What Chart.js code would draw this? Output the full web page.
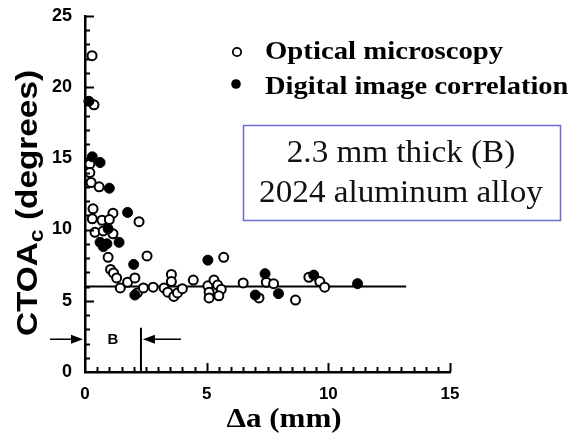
<!DOCTYPE html>
<html>
<head>
<meta charset="utf-8">
<script src="https://cdn.jsdelivr.net/npm/chart.js@4/dist/chart.umd.min.js"></script>
<style>
  html, body { margin: 0; padding: 0; background: #fff; }
</style>
</head>
<body>
<canvas id="c" width="571" height="436"></canvas>
<script>
// Optical microscopy (open circles)
const opticalX = [0.29, 0.37, 0.2, 0.2, 0.25, 0.58, 0.33, 1.15, 2.22, 0.3, 0.7, 1.0, 0.41, 0.75, 1.15,
  0.95, 1.05, 1.17, 1.3, 1.45, 1.75, 2.55, 2.05, 2.15, 2.4, 2.8, 3.25, 3.55, 3.55, 3.4, 3.65, 3.8, 4.0,
  4.45, 5.7, 5.05, 5.3, 5.45, 5.6, 5.1, 5.1, 5.5, 6.5, 7.45, 7.75, 7.15, 8.65, 9.2, 9.65, 9.85];
const opticalY = [22.2, 18.75, 14.6, 14.0, 13.3, 13.0, 11.45, 11.15, 10.55, 10.75, 10.65, 10.7, 9.8, 9.9, 9.7,
  8.05, 7.2, 6.95, 6.6, 5.9, 6.3, 8.15, 6.6, 5.55, 5.9, 5.95, 5.9, 6.85, 6.35, 5.6, 5.3, 5.55, 5.85,
  6.45, 8.05, 6.05, 6.45, 6.1, 5.8, 5.6, 5.2, 5.35, 6.25, 6.3, 6.2, 5.2, 5.05, 6.65, 6.35, 5.95];

// Digital image correlation (filled circles)
const dicX = [0.16, 0.3, 0.62, 1.0, 1.75, 0.95, 0.62, 0.9, 1.4, 0.75, 2.0, 2.05, 5.05, 7.4, 7.0, 7.95, 9.4, 11.2];
const dicY = [19.0, 15.1, 14.7, 12.9, 11.2, 10.05, 9.1, 9.0, 9.1, 8.8, 7.55, 5.4, 7.85, 6.9, 5.4, 5.5, 6.8, 6.2];

// steady-state CTOA line
const fitX = [0, 13.2];
const fitY = [6, 6];

// thickness marker B
const bX = [2.3, 2.3];
const bY = [0, 3.1];
const arrowY = 2.3;

const xTicks = [0, 5, 10, 15];
const yTicks = [0, 5, 10, 15, 20, 25];

const pts = (xs, ys) => xs.map((x, i) => ({ x, y: ys[i] }));

// text drawn a bit wider than tall, like the scanned figure
function wideText(ctx, text, x, y, sx) {
  ctx.save();
  ctx.translate(x, y);
  ctx.scale(sx, 1);
  ctx.fillText(text, 0, 0);
  ctx.restore();
}

const overlay = {
  id: "overlay",
  afterDraw(chart) {
    const { ctx, scales: { x, y }, chartArea: ca } = chart;
    ctx.save();
    ctx.strokeStyle = "#000";
    ctx.fillStyle = "#000";

    // inward tick marks
    ctx.lineWidth = 2;
    for (let i = 1; i <= 30; i++) {
      const v = i * 0.5;
      const px = Math.round(x.getPixelForValue(v)) + 0.5;
      const len = i % 10 === 0 ? 9 : 5;
      ctx.beginPath();
      ctx.moveTo(px, ca.bottom);
      ctx.lineTo(px, ca.bottom - len);
      ctx.stroke();
    }
    for (let v = 1; v <= 25; v++) {
      const py = Math.round(y.getPixelForValue(v)) + 0.5;
      const len = v % 5 === 0 ? 9 : 5;
      ctx.beginPath();
      ctx.moveTo(ca.left, py);
      ctx.lineTo(ca.left + len, py);
      ctx.stroke();
    }

    // arrows around B
    const ay = y.getPixelForValue(arrowY);
    const x0 = x.getPixelForValue(0);
    const xb = x.getPixelForValue(bX[0]);
    const arrow = (from, to) => {
      const dir = Math.sign(to - from);
      ctx.lineWidth = 1.5;
      ctx.beginPath();
      ctx.moveTo(from, ay);
      ctx.lineTo(to - dir * 8, ay);
      ctx.stroke();
      ctx.beginPath();
      ctx.moveTo(to, ay);
      ctx.lineTo(to - dir * 12, ay - 4.5);
      ctx.lineTo(to - dir * 12, ay + 4.5);
      ctx.closePath();
      ctx.fill();
    };
    arrow(x0 - 35, x0 - 2);
    arrow(xb + 40, xb + 2);
    ctx.font = "bold 15px 'Liberation Sans', Arial, sans-serif";
    ctx.textAlign = "center";
    ctx.textBaseline = "middle";
    ctx.fillText("B", (x0 + xb) / 2, ay + 1);

    // legend
    ctx.lineWidth = 1.8;
    ctx.beginPath();
    ctx.arc(237, 52, 4.2, 0, Math.PI * 2);
    ctx.fillStyle = "#fff";
    ctx.fill();
    ctx.stroke();
    ctx.fillStyle = "#000";
    ctx.beginPath();
    ctx.arc(236, 84, 4.8, 0, Math.PI * 2);
    ctx.fill();
    ctx.font = "bold 25px 'Liberation Serif', 'Times New Roman', serif";
    ctx.textAlign = "left";
    wideText(ctx, "Optical microscopy", 265, 53, 1.15);
    wideText(ctx, "Digital image correlation", 265, 88, 1.14);

    // info box
    ctx.strokeStyle = "#6b6bd6";
    ctx.lineWidth = 1.5;
    ctx.strokeRect(243.5, 125.5, 317, 95);
    ctx.font = "31px 'Liberation Serif', 'Times New Roman', serif";
    ctx.textAlign = "center";
    ctx.fillStyle = "#111";
    wideText(ctx, "2.3 mm thick (B)", 401, 154, 1.07);
    wideText(ctx, "2024 aluminum alloy", 401, 194, 1.07);

    // x title
    ctx.fillStyle = "#000";
    ctx.font = "bold 27px 'Liberation Serif', 'Times New Roman', serif";
    wideText(ctx, "\u0394a (mm)", 284, 420, 1.15);

    // y title with subscript
    ctx.translate(29, 203);
    ctx.rotate(-Math.PI / 2);
    ctx.scale(1.15, 1);
    const big = "bold 29px 'Liberation Sans', Arial, sans-serif";
    const small = "bold 20px 'Liberation Sans', Arial, sans-serif";
    ctx.font = big;
    const w1 = ctx.measureText("CTOA").width;
    const w3 = ctx.measureText(" (degrees)").width;
    ctx.font = small;
    const w2 = ctx.measureText("c").width;
    let cx = -(w1 + w2 + w3) / 2;
    ctx.textAlign = "left";
    ctx.font = big;
    ctx.fillText("CTOA", cx, 0);
    cx += w1;
    ctx.font = small;
    ctx.fillText("c", cx, 8);
    cx += w2;
    ctx.font = big;
    ctx.fillText(" (degrees)", cx, 0);

    ctx.restore();
  },
};

new Chart(document.getElementById("c"), {
  type: "scatter",
  data: {
    datasets: [
      {
        type: "line",
        data: pts(fitX, fitY),
        borderColor: "#000",
        borderWidth: 2,
        pointRadius: 0,
        order: 3,
      },
      {
        type: "line",
        data: pts(bX, bY),
        borderColor: "#000",
        borderWidth: 2,
        pointRadius: 0,
        order: 3,
      },
      {
        label: "Optical microscopy",
        data: pts(opticalX, opticalY),
        pointRadius: 4.5,
        pointBorderWidth: 2,
        pointBackgroundColor: "#fff",
        pointBorderColor: "#000",
        clip: false,
        order: 2,
      },
      {
        label: "Digital image correlation",
        data: pts(dicX, dicY),
        pointRadius: 5,
        pointBorderWidth: 1,
        pointBackgroundColor: "#000",
        pointBorderColor: "#000",
        clip: false,
        order: 1,
      },
    ],
  },
  options: {
    responsive: false,
    animation: false,
    devicePixelRatio: 1,
    layout: { padding: { left: 0, right: 121, top: 13, bottom: 0 } },
    plugins: { legend: { display: false }, tooltip: { enabled: false } },
    scales: {
      x: {
        type: "linear",
        min: 0,
        max: 15,
        afterBuildTicks: (s) => { s.ticks = xTicks.map((v) => ({ value: v })); },
        afterFit: (s) => { s.height = 64; },
        grid: { display: false },
        border: { display: true, color: "#000", width: 2.5 },
        ticks: {
          color: "#000",
          padding: 4,
          font: { family: "'Liberation Sans', Arial, sans-serif", size: 17, weight: "bold" },
        },
      },
      y: {
        type: "linear",
        min: 0,
        max: 25,
        afterBuildTicks: (s) => { s.ticks = yTicks.map((v) => ({ value: v })); },
        afterFit: (s) => { s.width = 85; },
        grid: { display: false },
        border: { display: true, color: "#000", width: 2.5 },
        ticks: {
          color: "#000",
          padding: 5,
          font: { family: "'Liberation Sans', Arial, sans-serif", size: 18, weight: "bold" },
        },
      },
    },
  },
  plugins: [overlay],
});
</script>
</body>
</html>
